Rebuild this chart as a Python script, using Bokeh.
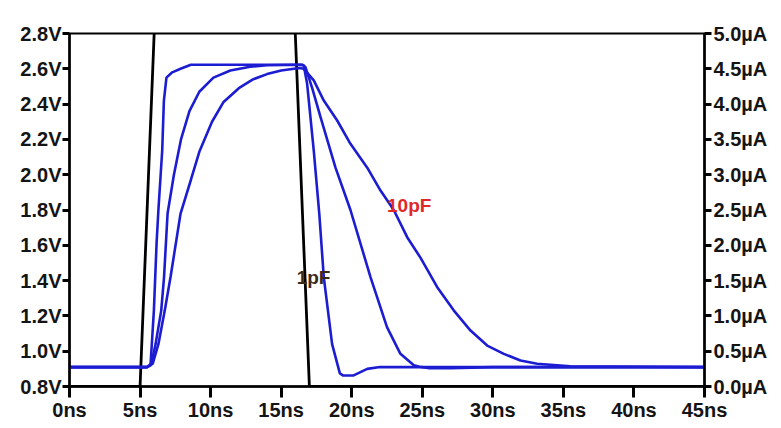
from bokeh.plotting import figure
from bokeh.models import Range1d, LinearAxis, FixedTicker, Label
from bokeh.embed import file_html
from bokeh.resources import INLINE

# ---- data ----
# time in ns, voltage in V
t_1pf = [0, 5.5, 5.74, 5.98, 6.17, 6.3, 6.57, 6.69, 6.87, 7.28, 7.87, 8.6, 16.4, 16.6,
         16.84, 17.31, 17.7, 18.02, 18.61, 19.16, 19.4, 20.1, 21.1, 22.0, 45]
v_1pf = [0.91, 0.91, 0.92, 1.23, 1.61, 1.80, 2.137, 2.42, 2.55, 2.58, 2.60, 2.623, 2.623, 2.62,
         2.515, 2.137, 1.78, 1.42, 1.04, 0.874, 0.862, 0.862, 0.90, 0.91, 0.91]

t_5pf = [0, 5.5, 5.8, 6.1, 6.5, 6.7, 6.95, 7.4, 7.9, 8.5, 9.2, 10.2, 11.4, 12.8, 14.0, 16.5,
         16.72, 17.2, 17.79, 18.85, 19.91, 21.33, 22.5, 23.45, 24.4, 24.8, 25.5, 27.0, 28.5, 30.0, 45]
v_5pf = [0.91, 0.91, 0.93, 1.04, 1.23, 1.42, 1.78, 2.0, 2.2, 2.36, 2.47, 2.55, 2.59, 2.612, 2.62, 2.623,
         2.61, 2.49, 2.326, 2.04, 1.80, 1.42, 1.136, 0.985, 0.92, 0.912, 0.904, 0.903, 0.907, 0.91, 0.91]

t_10pf = [0, 5.5, 5.9, 6.3, 6.75, 7.16, 7.87, 8.6, 9.2, 10.1, 10.9, 12.0, 13.0, 14.0, 15.0, 16.3,
          16.6, 17.31, 18.02, 18.97, 19.91, 21.1, 22.04, 22.98, 23.93, 24.87, 26.06, 27.24,
          28.42, 29.6, 30.78, 31.96, 33.14, 35.5, 45]
v_10pf = [0.91, 0.91, 0.93, 1.04, 1.23, 1.42, 1.78, 1.97, 2.13, 2.30, 2.41, 2.49, 2.54, 2.57, 2.59, 2.605,
          2.60, 2.534, 2.42, 2.307, 2.175, 2.04, 1.91, 1.80, 1.646, 1.53, 1.363, 1.23,
          1.117, 1.032, 0.985, 0.947, 0.929, 0.915, 0.91]

# current in uA
t_lin = [0, 5, 7, 15, 17, 45]
i_lin = [0, 0, 10, 10, 0, 0]

x_ticks = [0, 5, 10, 15, 20, 25, 30, 35, 40, 45]
x_labels = ["0ns", "5ns", "10ns", "15ns", "20ns", "25ns", "30ns", "35ns", "40ns", "45ns"]
v_ticks = [0.8, 1.0, 1.2, 1.4, 1.6, 1.8, 2.0, 2.2, 2.4, 2.6, 2.8]
v_labels = ["0.8V", "1.0V", "1.2V", "1.4V", "1.6V", "1.8V", "2.0V", "2.2V", "2.4V", "2.6V", "2.8V"]
i_ticks = [0.0, 0.5, 1.0, 1.5, 2.0, 2.5, 3.0, 3.5, 4.0, 4.5, 5.0]
i_labels = ["0.0µA", "0.5µA", "1.0µA", "1.5µA", "2.0µA", "2.5µA", "3.0µA", "3.5µA", "4.0µA", "4.5µA", "5.0µA"]

BLUE = "#1c1cd2"
FONT = "Liberation Sans"

p = figure(width=781, height=428, output_backend="svg", toolbar_location=None,
           x_range=Range1d(0, 45), y_range=Range1d(0.8, 2.8),
           min_border_left=69, min_border_right=77, min_border_top=33, min_border_bottom=42,
           x_axis_location=None, y_axis_location=None)
p.grid.visible = False
p.outline_line_color = "black"
p.outline_line_width = 2
p.background_fill_color = "white"
p.border_fill_color = "white"

p.extra_y_ranges = {"cur": Range1d(0, 5)}


def style_axis(ax, tick_out, standoff):
    ax.axis_line_color = "black"
    ax.axis_line_width = 2.5
    ax.major_tick_line_color = "black"
    ax.major_tick_line_width = 3
    ax.major_tick_out = tick_out
    ax.major_tick_in = 0
    ax.minor_tick_line_color = None
    ax.major_label_text_font = FONT
    ax.major_label_text_font_style = "bold"
    ax.major_label_text_font_size = "20px"
    ax.major_label_text_color = "#141414"
    ax.major_label_standoff = standoff


xa = LinearAxis(ticker=FixedTicker(ticks=x_ticks),
                major_label_overrides={t: l for t, l in zip(x_ticks, x_labels)})
style_axis(xa, 11, 1)
p.add_layout(xa, "below")

ya = LinearAxis(ticker=FixedTicker(ticks=v_ticks),
                major_label_overrides={t: l for t, l in zip(v_ticks, v_labels)})
style_axis(ya, 7, 1)
p.add_layout(ya, "left")

ia = LinearAxis(y_range_name="cur", ticker=FixedTicker(ticks=i_ticks),
                major_label_overrides={t: l for t, l in zip(i_ticks, i_labels)})
style_axis(ia, 7, 2)
p.add_layout(ia, "right")

p.line(t_lin, i_lin, y_range_name="cur", line_color="black", line_width=2.8)
p.line(t_10pf, v_10pf, line_color=BLUE, line_width=2.6)
p.line(t_5pf, v_5pf, line_color=BLUE, line_width=2.6)
p.line(t_1pf, v_1pf, line_color=BLUE, line_width=2.6)

p.add_layout(Label(x=11.05, y=2.885, text="V(vout1)", text_align="center", text_baseline="middle",
                   text_font=FONT, text_font_style="bold", text_font_size="20px", text_color=BLUE))
p.add_layout(Label(x=33.4, y=2.885, text="I(lin)", text_align="center", text_baseline="middle",
                   text_font=FONT, text_font_style="bold", text_font_size="20px", text_color="#222222"))
p.add_layout(Label(x=22.5, y=1.825, text="10pF", text_align="left", text_baseline="middle",
                   text_font=FONT, text_font_style="bold", text_font_size="19px", text_color="#e02828"))
p.add_layout(Label(x=16.1, y=1.418, text="1pF", text_align="left", text_baseline="middle",
                   text_font=FONT, text_font_style="bold", text_font_size="19px", text_color="#3a2a1a"))

open("out.html", "w").write(file_html(p, INLINE))
